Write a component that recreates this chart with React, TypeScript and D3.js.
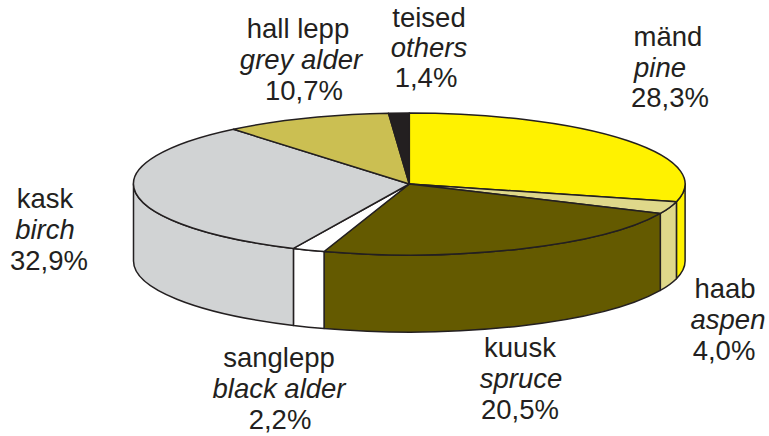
import React from "react";
import * as d3 from "d3";

const names = ["mänd", "haab", "kuusk", "sanglepp", "kask", "hall lepp", "teised"];
const latin = ["pine", "aspen", "spruce", "black alder", "birch", "grey alder", "others"];
const labels = ["28,3%", "4,0%", "20,5%", "2,2%", "32,9%", "10,7%", "1,4%"];
// Slice sizes as they are drawn in the picture (the drawing departs slightly from its labels)
const drawnShare = [29.0, 2.8, 23.2, 1.9, 32.1, 9.8, 1.2];
const colors = ["#FFF200", "#DFD88A", "#645A00", "#FFFFFF", "#D1D3D4", "#CBBF52", "#231F20"];
const nameX = [668, 725, 520, 279, 45, 298, 429];
const latinX = [660, 728, 521, 279, 45, 301, 429];
const pctX = [670, 724, 520, 280, 49, 304, 426];
const labelY = [46, 298, 357, 367, 208, 38, 27];
const lineGap = [30.5, 31, 31, 31, 31, 31, 30];

const W = 769, H = 436;
const cx = 409.3, cy = 184, rx = 275.8, ry = 71, depth = 77;
const ink = "#231F20";

const pie = d3.pie<number>().sort(null).startAngle(0).endAngle(2 * Math.PI);
const slices = pie(drawnShare);
const arc = d3.arc<d3.PieArcDatum<number>>().innerRadius(0).outerRadius(rx);

const ex = (a: number) => cx + rx * Math.sin(a);
const ey = (a: number, d = 0) => cy - ry * Math.cos(a) + d;

function wallPath(a0: number, a1: number) {
  const from = Math.max(a0, Math.PI / 2);
  const to = Math.min(a1, (3 * Math.PI) / 2);
  if (to <= from) return null;
  return (
    `M${ex(from)},${ey(from)}` +
    `A${rx},${ry} 0 0 1 ${ex(to)},${ey(to)}` +
    `L${ex(to)},${ey(to, depth)}` +
    `A${rx},${ry} 0 0 0 ${ex(from)},${ey(from, depth)}Z`
  );
}

export default function App() {
  return (
    <svg
      width={W}
      height={H}
      viewBox={`0 0 ${W} ${H}`}
      style={{ position: "fixed", left: 0, top: 0, background: "#fff" }}
    >
      <g stroke={ink} strokeWidth={1.5} strokeLinejoin="round">
        {slices.map((s, i) => {
          const p = wallPath(s.startAngle, s.endAngle);
          return p ? <path key={i} d={p} fill={colors[i]} /> : null;
        })}
        <g transform={`translate(${cx},${cy}) scale(1,${ry / rx})`}>
          {slices.map((s, i) => (
            <path key={i} d={arc(s) ?? ""} fill={colors[i]} vectorEffect="non-scaling-stroke" />
          ))}
        </g>
      </g>
      <g fontFamily="'Liberation Sans', Arial, sans-serif" fontSize={27.5} fill={ink} textAnchor="middle">
        {names.map((n, i) => (
          <g key={n}>
            <text x={nameX[i]} y={labelY[i]}>{n}</text>
            <text x={latinX[i]} y={labelY[i] + lineGap[i]} fontStyle="italic">{latin[i]}</text>
            <text x={pctX[i]} y={labelY[i] + 2 * lineGap[i]}>{labels[i]}</text>
          </g>
        ))}
      </g>
    </svg>
  );
}
